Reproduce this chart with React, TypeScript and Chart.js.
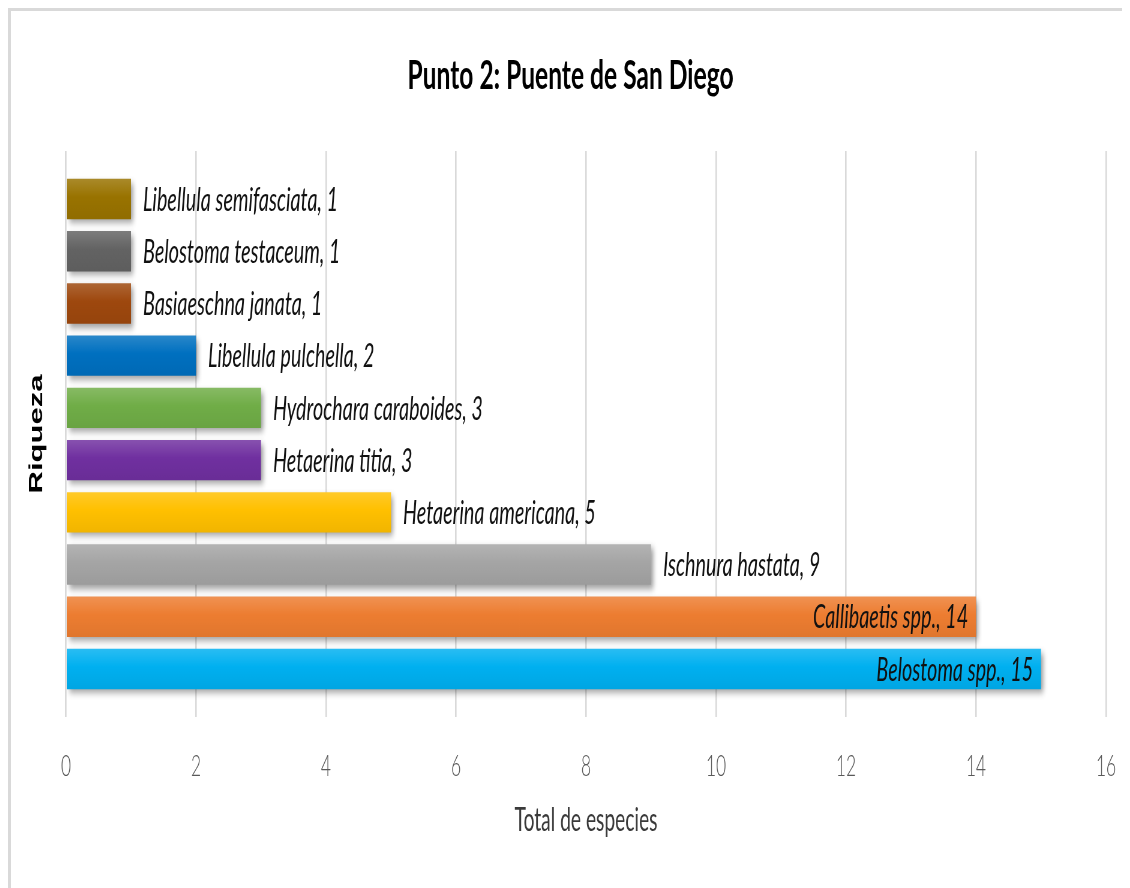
import React, { useEffect, useRef } from "react";
import { Chart, registerables } from "chart.js";

Chart.register(...registerables);

// Data (index 0 = bottom bar)
const categories = [
  "Belostoma spp.",
  "Callibaetis spp.",
  "Ischnura hastata",
  "Hetaerina americana",
  "Hetaerina titia",
  "Hydrochara caraboides",
  "Libellula pulchella",
  "Basiaeschna janata",
  "Belostoma testaceum",
  "Libellula semifasciata",
];
const values = [15, 14, 9, 5, 3, 3, 2, 1, 1, 1];
const barColors = [
  "#00B0F0",
  "#ED7D31",
  "#A5A5A5",
  "#FFC000",
  "#7030A0",
  "#70AD47",
  "#0070C0",
  "#9E480E",
  "#636363",
  "#997300",
];
const xTicks = [0, 2, 4, 6, 8, 10, 12, 14, 16];

const TITLE = "Punto 2: Puente de San Diego";
const X_TITLE = "Total de especies";
const Y_TITLE = "Riqueza";

// Layout helpers
const S = 0.6; // horizontal squeeze of the whole picture
const INNER_W = 1119;
const INNER_H = 877;
const LW = Math.round(INNER_W / S);

function mix(hex: string, target: number, amt: number) {
  const n = parseInt(hex.slice(1), 16);
  const r = (n >> 16) & 255,
    g = (n >> 8) & 255,
    b = n & 255;
  const f = (c: number) => Math.round(c + (target - c) * amt);
  return `rgb(${f(r)},${f(g)},${f(b)})`;
}

const shadowPlugin = {
  id: "barShadow",
  beforeDatasetsDraw(chart: any) {
    const ctx = chart.ctx;
    ctx.save();
    ctx.shadowColor = "rgba(0,0,0,0.38)";
    ctx.shadowBlur = 7;
    ctx.shadowOffsetX = 4;
    ctx.shadowOffsetY = 4;
  },
  afterDatasetsDraw(chart: any) {
    chart.ctx.restore();
  },
};

const labelPlugin = {
  id: "barLabels",
  afterDatasetsDraw(chart: any) {
    const ctx = chart.ctx;
    const meta = chart.getDatasetMeta(0);
    const area = chart.chartArea;
    ctx.save();
    ctx.font = "italic 33px Lato, 'Open Sans', sans-serif";
    ctx.fillStyle = "#111111";
    ctx.textBaseline = "middle";
    meta.data.forEach((bar: any, i: number) => {
      const text = `${categories[i]}, ${values[i]}`;
      const w = ctx.measureText(text).width;
      const gapOut = 20;
      const gapIn = 13;
      if (bar.x + gapOut + w > area.right) {
        ctx.textAlign = "right";
        ctx.fillText(text, bar.x - gapIn, bar.y + 1);
      } else {
        ctx.textAlign = "left";
        ctx.fillText(text, bar.x + gapOut, bar.y + 1);
      }
    });
    ctx.restore();
  },
};

export default function App() {
  const ref = useRef<HTMLCanvasElement | null>(null);

  useEffect(() => {
    if (!ref.current) return;
    const chart = new Chart(ref.current, {
      type: "bar",
      data: {
        labels: categories,
        datasets: [
          {
            data: values.map((v, i) => ({ x: v, y: i })),
            backgroundColor: (c: any) => {
              const base = barColors[c.dataIndex] || "#999";
              const ch = c.chart;
              const ys = ch.scales && ch.scales.y;
              if (!ch.chartArea || !ys) return base;
              const cy = ys.getPixelForValue(c.dataIndex);
              const half =
                Math.abs(ys.getPixelForValue(0) - ys.getPixelForValue(1)) * 0.42;
              const g = ch.ctx.createLinearGradient(0, cy - half, 0, cy + half);
              g.addColorStop(0, mix(base, 255, 0.18));
              g.addColorStop(0.45, base);
              g.addColorStop(1, mix(base, 0, 0.06));
              return g;
            },
            borderWidth: 0,
            barPercentage: 0.84,
            categoryPercentage: 1,
          } as any,
        ],
      },
      options: {
        indexAxis: "y",
        animation: false,
        responsive: false,
        maintainAspectRatio: false,
        devicePixelRatio: 1,
        layout: { padding: { left: 0, right: 0, top: 0, bottom: 0 } },
        plugins: {
          legend: { display: false },
          tooltip: { enabled: false },
          title: {
            display: true,
            text: TITLE,
            color: "#000000",
            font: { family: "Lato, 'Open Sans', sans-serif", size: 41, weight: "bold", lineHeight: 1.2 },
            padding: { top: 40, bottom: 50.8 },
          },
        },
        scales: {
          x: {
            type: "linear",
            min: 0,
            max: 16,
            afterBuildTicks: (scale: any) => {
              scale.ticks = xTicks.map((v) => ({ value: v }));
            },
            afterFit: (scale: any) => {
              scale.paddingLeft = 0;
              scale.paddingRight = (1130 - 1106) / S;
            },
            ticks: {
              color: "#595959",
              padding: 32,
              font: { family: "Lato, 'Open Sans', sans-serif", size: 29, weight: "300", lineHeight: 1.2 },
            },
            grid: {
              color: "#d9d9d9",
              lineWidth: 2.6,
              drawTicks: false,
            },
            border: { display: false },
            title: {
              display: true,
              text: X_TITLE,
              color: "#3a3a3a",
              font: { family: "Lato, 'Open Sans', sans-serif", size: 32, lineHeight: 1.2 },
              padding: { top: -14.2, bottom: 48 },
            },
          },
          y: {
            type: "linear",
            offset: false,
            min: -0.92,
            max: 9.92,
            ticks: { display: false },
            grid: { display: false, offset: false },
            border: { display: false },
            afterFit: (scale: any) => {
              scale.width = (66 - 11) / S;
            },
            title: {
              display: true,
              text: Y_TITLE,
              color: "#000000",
              font: { family: "'Liberation Sans', Arial, sans-serif", size: 31, weight: "bold", lineHeight: 1.2 },
              padding: { top: 24.4, bottom: 0 },
            },
          },
        },
      } as any,
      plugins: [shadowPlugin, labelPlugin],
    });
    return () => chart.destroy();
  }, []);

  return (
    <div
      style={{
        position: "relative",
        width: 1122,
        height: 880,
        overflow: "hidden",
        boxSizing: "border-box",
        borderTop: "3px solid #d9d9d9",
        borderLeft: "3px solid #d9d9d9",
        background: "#ffffff",
      }}
    >
      <div
        style={{
          position: "absolute",
          left: 0,
          top: 0,
          width: LW,
          height: INNER_H,
          transform: `scaleX(${S})`,
          transformOrigin: "0 0",
        }}
      >
        <canvas ref={ref} width={LW} height={INNER_H} style={{ display: "block", width: LW, height: INNER_H }} />
      </div>
    </div>
  );
}
